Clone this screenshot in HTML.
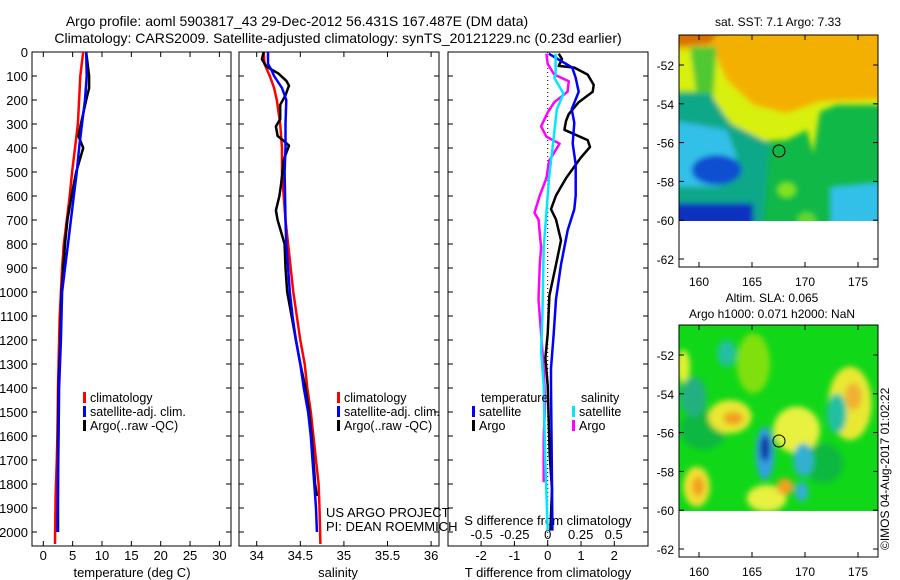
<!DOCTYPE html>
<html><head><meta charset="utf-8"><style>
body{margin:0;background:#fff;}
svg{display:block;font-family:"Liberation Sans",sans-serif;}
</style></head><body>
<svg id="chart" width="900" height="580" viewBox="0 0 900 580" xmlns="http://www.w3.org/2000/svg">
<defs>
<filter id="bl" x="-20%" y="-20%" width="140%" height="140%"><feGaussianBlur stdDeviation="9"/></filter>
<filter id="bl2" x="-20%" y="-20%" width="140%" height="140%"><feGaussianBlur stdDeviation="8"/></filter>
<clipPath id="c1"><rect x="679" y="35" width="199" height="186"/></clipPath>
<clipPath id="c2"><rect x="679" y="325" width="199" height="186"/></clipPath>
</defs>
<text x="297" y="26" font-size="14" text-anchor="middle">Argo profile: aoml 5903817_43 29-Dec-2012 56.431S 167.487E (DM data)</text>
<text x="338" y="43" font-size="14" text-anchor="middle">Climatology: CARS2009. Satellite-adjusted climatology: synTS_20121229.nc (0.23d earlier)</text>

<!-- SST map -->
<g clip-path="url(#c1)">
<rect x="679" y="35" width="199" height="186" fill="#10b848"/>
<g transform="translate(670,30) scale(0.33333)" filter="url(#bl2)">
<polygon points="0,0 700,0 700,225 500,225 450,245 430,370 410,300 350,330 260,335 200,300 150,240 120,185 0,185" fill="#d8f010"/>
<polygon points="0,0 700,0 700,205 450,215 350,250 250,225 170,150 130,60 0,60" fill="#f4b000"/>
<polygon points="0,0 150,0 120,40 0,50" fill="#d87000"/>
<polygon points="60,50 140,50 130,200 80,200" fill="#50c830"/>
<polygon points="0,190 120,190 180,280 300,340 280,600 0,600" fill="#10a888"/>
<polygon points="0,270 170,300 200,380 150,470 0,470" fill="#30c0e8"/>
<ellipse cx="140" cy="420" rx="75" ry="45" fill="#1050d0"/>
<rect x="0" y="520" width="250" height="80" fill="#1030c0"/>
<polygon points="480,470 700,450 700,600 480,600" fill="#30c0e8"/>
<ellipse cx="350" cy="480" rx="30" ry="25" fill="#80e020"/>
<ellipse cx="410" cy="570" rx="30" ry="25" fill="#60d830"/>
</g>
</g>
<rect x="679" y="35" width="199" height="232" fill="none" stroke="#000"/>
<circle cx="779" cy="151" r="6" fill="none" stroke="#000"/>
<text x="778" y="26" font-size="12" text-anchor="middle">sat. SST: 7.1 Argo: 7.33</text>

<!-- SLA map -->
<g clip-path="url(#c2)">
<rect x="679" y="325" width="199" height="186" fill="#10d818"/>
<g transform="translate(650,290) scale(0.33333)" filter="url(#bl)">
<ellipse cx="160" cy="420" rx="70" ry="60" fill="#10b840"/>
<ellipse cx="520" cy="520" rx="60" ry="60" fill="#10b840"/>
<ellipse cx="310" cy="220" rx="50" ry="90" fill="#80e010"/>
<ellipse cx="240" cy="380" rx="65" ry="50" fill="#e8e830"/>
<ellipse cx="250" cy="385" rx="30" ry="20" fill="#f0a020"/>
<ellipse cx="140" cy="590" rx="40" ry="60" fill="#f0e030"/>
<ellipse cx="145" cy="590" rx="18" ry="30" fill="#f0a020"/>
<ellipse cx="440" cy="420" rx="70" ry="70" fill="#e8f040"/>
<ellipse cx="600" cy="340" rx="65" ry="110" fill="#e8e830"/>
<ellipse cx="610" cy="320" rx="25" ry="40" fill="#f0b030"/>
<ellipse cx="350" cy="625" rx="60" ry="40" fill="#e8f040"/>
<ellipse cx="405" cy="590" rx="25" ry="25" fill="#f0a020"/>
<ellipse cx="100" cy="230" rx="20" ry="50" fill="#e0f030"/>
<ellipse cx="230" cy="190" rx="28" ry="40" fill="#20c0a0"/>
<ellipse cx="130" cy="320" rx="40" ry="60" fill="#20b080"/>
<ellipse cx="560" cy="370" rx="30" ry="60" fill="#20c0a0"/>
<ellipse cx="460" cy="510" rx="30" ry="50" fill="#30b0d0"/>
<ellipse cx="455" cy="605" rx="20" ry="30" fill="#30b0d0"/>
<ellipse cx="345" cy="490" rx="28" ry="80" fill="#30a0e0"/>
<ellipse cx="345" cy="475" rx="14" ry="40" fill="#0830a0"/>
</g>
</g>
<rect x="679" y="325" width="199" height="232" fill="none" stroke="#000"/>
<circle cx="779" cy="441" r="6" fill="none" stroke="#000"/>
<text x="772" y="302" font-size="12" text-anchor="middle">Altim. SLA: 0.065</text>
<text x="772" y="318" font-size="12" text-anchor="middle">Argo h1000: 0.071 h2000: NaN</text>
<text transform="translate(889,550) rotate(-90)" font-size="12">©IMOS 04-Aug-2017 01:02:22</text>
<g id="axes"></g>
</svg>
<script>
// ---- data ----
const depthTicks=[0,100,200,300,400,500,600,700,800,900,1000,1100,1200,1300,1400,1500,1600,1700,1800,1900,2000];
const tempTicks=[0,5,10,15,20,25,30];
const salTicks=[34,34.5,35,35.5,36];
const tdiffTicks=[-2,-1,0,1,2];
const sdiffTicks=[-0.5,-0.25,0,0.25,0.5];
const sdiffLabels=["-0.5","-0.25","0","0.25","0.5"];
const latTicks=[-52,-54,-56,-58,-60,-62];
const lonTicks=[160,165,170,175];

const tClimDepth=[0,100,200,300,400,500,600,700,800,900,1000,1100,1200,1400,1600,1700,1850,2050];
const tClim=[6.8,6.3,6.1,5.9,5.4,4.9,4.5,4.0,3.5,3.2,3.0,2.8,2.7,2.5,2.4,2.3,2.1,2.0];
const tSatDepth=[0,100,200,300,400,500,600,700,800,900,1000,1100,1200,1400,1600,1800,2000];
const tSat=[7.3,7.4,7.1,6.6,6.1,5.7,5.2,4.7,4.2,3.7,3.2,3.1,3.0,2.7,2.6,2.5,2.4];
const tArgoDepth=[0,100,150,200,300,350,400,450,500,600,700,800,900,1000,1200,1400,1600,1800,2000];
const tArgo=[7.3,7.8,7.8,7.3,6.4,6.0,6.8,6.2,5.6,4.8,4.1,3.7,3.4,3.1,2.9,2.6,2.5,2.5,2.5];

const sClimDepth=[0,50,100,150,200,250,300,400,500,600,700,800,900,1000,1100,1200,1300,1400,1500,1600,1700,1800,1900,2050];
const sClim=[34.08,34.09,34.15,34.20,34.23,34.25,34.27,34.29,34.29,34.31,34.33,34.36,34.39,34.42,34.46,34.50,34.55,34.58,34.62,34.65,34.68,34.71,34.72,34.73];
const sSatDepth=[0,50,75,100,150,200,300,400,500,700,800,900,1000,1100,1200,1300,1400,1500,1600,1700,1800,1900,2000];
const sSat=[34.13,34.13,34.17,34.20,34.29,34.34,34.33,34.33,34.32,34.33,34.34,34.36,34.38,34.41,34.45,34.50,34.54,34.59,34.62,34.64,34.66,34.68,34.69];
const sArgoDepth=[0,30,60,90,120,140,180,220,280,310,350,370,390,420,450,550,600,660,700,750,800,900,1000,1100,1200,1300,1400,1500,1600,1700,1800,1850];
const sArgo=[34.08,34.06,34.11,34.25,34.34,34.37,34.33,34.27,34.27,34.22,34.24,34.31,34.37,34.34,34.31,34.28,34.26,34.22,34.24,34.28,34.32,34.33,34.35,34.40,34.45,34.50,34.56,34.60,34.63,34.65,34.67,34.69];

const dtSatDepth=[7,65,108,166,238,295,382,468,598,655,742,886,1030,1174,1318,1390,1678,1994];
const dtSat=[0.03,0.74,0.84,0.93,0.72,0.8,0.75,0.84,0.84,0.8,0.6,0.4,0.25,0.18,0.1,0.1,0.12,0.14];
const dtArgoDepth=[7,29,58,65,94,137,166,209,259,288,324,367,396,439,526,598,655,698,785,886,1015,1174,1274,1390,1678,1822,1994];
const dtArgo=[0.33,0.43,0.33,0.8,1.2,1.38,1.35,0.93,0.63,0.55,0.5,1.2,1.27,1.0,0.55,0.25,0.1,0.25,0.4,0.25,0.05,0.0,-0.07,0.0,0.06,0.13,0.08];
const dsSatDepth=[7,50,94,108,173,238,382,526,670,814,1102,1246,1390,1678,1994];
const dsSat=[0.06,0.06,0.06,0.05,0.12,0.07,0.04,0.01,-0.01,-0.03,-0.04,-0.05,-0.03,-0.02,0.0];
const dsArgoDepth=[7,50,94,122,166,209,252,310,353,382,454,526,598,670,698,814,886,1030,1174,1318,1462,1606,1793];
const dsArgo=[-0.01,-0.0,0.05,0.16,0.15,0.05,0.0,-0.05,-0.01,0.09,0.01,-0.01,-0.06,-0.1,-0.07,-0.05,-0.06,-0.07,-0.05,-0.03,-0.02,-0.03,-0.03];

// ---- axes ----
const yD=d=>52+0.24*d;
const xT=t=>43.3+5.87*t;
const xS=s=>256.7+87.2*(s-34);
const xDT=t=>547.7+33.3*t;
const xDS=s=>547.7+132*s;
const yLat=l=>65+(-52-l)*19.4;
const xLon=l=>699+(l-160)*10.6;

const NS="http://www.w3.org/2000/svg";
const root=document.getElementById('axes');
function mk(tag,attrs,parent){const e=document.createElementNS(NS,tag);for(const k in attrs)e.setAttribute(k,attrs[k]);(parent||root).appendChild(e);return e;}
function txt(x,y,s,size,anchor,parent){const e=mk('text',{x:x,y:y,'font-size':size,'text-anchor':anchor||'middle'},parent);e.textContent=s;return e;}

const panels=[{x0:32,x1:231,n:'temperature'},{x0:239,x1:439,n:'salinity'},{x0:448,x1:648,n:'difference'}];
panels.forEach(p=>{
  const r=mk('rect',{x:p.x0,y:52,width:p.x1-p.x0,height:494,fill:'none',stroke:'#000'});
  
  
  depthTicks.forEach(d=>{
    mk('line',{x1:p.x0,x2:p.x0+5,y1:yD(d),y2:yD(d),stroke:'#000'});
    mk('line',{x1:p.x1,x2:p.x1-5,y1:yD(d),y2:yD(d),stroke:'#000'});
  });
});
depthTicks.forEach(d=>{
  const t=txt(28,yD(d)+5,String(d),13,'end');
  
  
});
function xticks(vals,labels,fx,y0,ly,top){
  vals.forEach((v,i)=>{
    const x=fx(v);
    mk('line',{x1:x,x2:x,y1:546,y2:541,stroke:'#000'});
    if(top)mk('line',{x1:x,x2:x,y1:52,y2:57,stroke:'#000'});
    const t=txt(x,ly,labels[i],13);
    
    
  });
}
xticks(tempTicks,tempTicks.map(String),xT,546,560,true);
xticks(salTicks,salTicks.map(String),xS,546,560,true);
xticks(tdiffTicks,tdiffTicks.map(String),xDT,546,560,false);
sdiffLabels.forEach((l,i)=>{const t=txt(xDS(sdiffTicks[i]),539,l,13);
  
  });
let at;
at=txt(132,577,'temperature (deg C)',13);
at=txt(338,577,'salinity',13);
at=txt(548,577,'T difference from climatology',13);
at=txt(548,525,'S difference from climatology',13);
at=txt(326,517,'US ARGO PROJECT',13,'start');
at=txt(326,531,'PI: DEAN ROEMMICH',13,'start');
const zl=mk('line',{x1:xDT(0),x2:xDT(0),y1:52,y2:546,stroke:'#000','stroke-dasharray':'1,3'});



function series(fx,xs,ds,color,name){
  const pts=xs.map((v,i)=>fx(v).toFixed(1)+','+yD(ds[i]).toFixed(1)).join(' ');
  const e=mk('polyline',{points:pts,fill:'none',stroke:color,'stroke-width':2.5,'stroke-linejoin':'round'});
  
  
}
series(xT,tClim,tClimDepth,'#ff0000','temp-climatology-line');
series(xT,tArgo,tArgoDepth,'#000','temp-argo-line');
series(xT,tSat,tSatDepth,'#0000ff','temp-satellite-line');
series(xS,sClim,sClimDepth,'#ff0000','sal-climatology-line');
series(xS,sArgo,sArgoDepth,'#000','sal-argo-line');
series(xS,sSat,sSatDepth,'#0000ff','sal-satellite-line');
series(xDS,dsArgo,dsArgoDepth,'#ff00ff','sdiff-argo-line');
series(xDT,dtArgo,dtArgoDepth,'#000','tdiff-argo-line');
series(xDT,dtSat,dtSatDepth,'#0000ff','tdiff-satellite-line');
series(xDS,dsSat,dsSatDepth,'#00e8ff','sdiff-satellite-line');

function legend(x,y,color,label){
  const r=mk('rect',{x:x,y:y-10,width:3,height:11,fill:color});
  
  
  const t=txt(x+7,y,label,12.5,'start');
  
  
}
[[83,'climatology','#ff0000'],[83,'satellite-adj. clim.','#0000ff'],[83,"Argo(..raw -QC)",'#000']].forEach((l,i)=>legend(l[0],402+i*14,l[2],l[1]));
[[337,'climatology','#ff0000'],[337,'satellite-adj. clim.','#0000ff'],[337,"Argo(..raw -QC)",'#000']].forEach((l,i)=>legend(l[0],402+i*14,l[2],l[1]));
at=txt(481,402,'temperature',12.5,'start');
at=txt(581,402,'salinity',12.5,'start');
legend(472,416,'#0000ff','satellite');
legend(472,430,'#000','Argo');
legend(572,416,'#00e8ff','satellite');
legend(572,430,'#ff00ff','Argo');

[0,290].forEach((off,mi)=>{
  latTicks.forEach(l=>{
    const y=yLat(l)+off;
    mk('line',{x1:679,x2:684,y1:y,y2:y,stroke:'#000'});
    mk('line',{x1:878,x2:873,y1:y,y2:y,stroke:'#000'});
    const t=txt(674,y+5,String(l),12,'end');
    
    
  });
  lonTicks.forEach(l=>{
    const x=xLon(l);
    mk('line',{x1:x,x2:x,y1:35+off,y2:40+off,stroke:'#000'});
    mk('line',{x1:x,x2:x,y1:267+off,y2:262+off,stroke:'#000'});
    const t=txt(x,286+off,String(l),12);
    
    
  });
});
</script>
</body></html>
